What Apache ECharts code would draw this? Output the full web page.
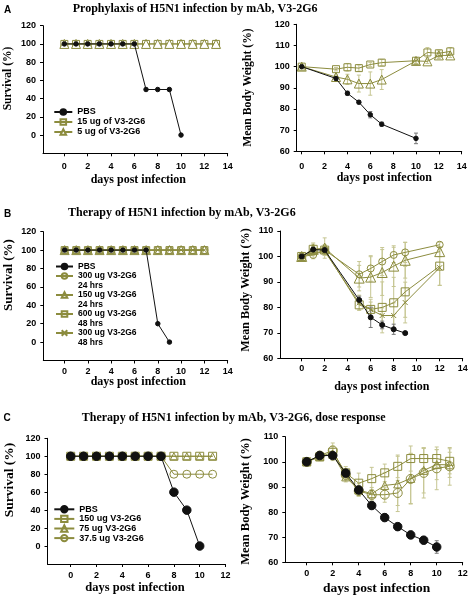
<!DOCTYPE html>
<html><head><meta charset="utf-8">
<script src="https://cdn.jsdelivr.net/npm/echarts@6/dist/echarts.min.js"></script>
<style>html,body{margin:0;padding:0;background:#fff}#c{width:472px;height:599px}</style>
</head><body><div id="c"></div>
<script>
// ---------------- Panel A: Prophylaxis ----------------
const daysA_surv = [0,1,2,3,4,5,6,7,8,9,10,11,12,13];
const daysA_surv_PBS = [0,1,2,3,4,5,6,7,8,9,10];
const survA_PBS  = [100,100,100,100,100,100,100,50,50,50,0];
const survA_15ug = [100,100,100,100,100,100,100,100,100,100,100,100,100,100];
const survA_5ug  = [100,100,100,100,100,100,100,100,100,100,100,100,100,100];

const daysA_wt_PBS = [0,3,4,5,6,7,10];
const wtA_PBS  = [100,94.4,87.4,83.2,77.3,72.8,66.1];
const errA_PBS = [0.5,0.8,1,0.8,1.5,1,2.5];
const daysA_wt = [0,3,4,5,6,7,10,11,12,13];
const wtA_15ug  = [100,98.8,99.7,99.3,101,101.9,102.8,106.7,106.3,107.2];
const errA_15ug = [0.5,0.8,1.8,1.5,1,1.5,1.5,2.3,1.5,1.8];
const wtA_5ug   = [100,95.1,94,92,92,93.9,102.7,102.5,105.3,105.3];
const errA_5ug  = [0.5,1,2.4,4,5.5,4.7,1.5,1,1.5,1];

// ---------------- Panel B: Therapy ----------------
const daysB_surv = [0,1,2,3,4,5,6,7,8,9,10,11,12];
const daysB_surv_PBS = [0,1,2,3,4,5,6,7,8,9];
const survB_PBS    = [100,100,100,100,100,100,100,100,20,0];
const survB_300_24 = [100,100,100,100,100,100,100,100,100,100,100,100,100];
const survB_150_24 = [100,100,100,100,100,100,100,100,100,100,100,100,100];
const survB_600_48 = [100,100,100,100,100,100,100,100,100,100,100,100,100];
const survB_300_48 = [100,100,100,100,100,100,100,100,100,100,100,100,100];

const daysB_wt_PBS = [0,1,2,5,6,7,8,9];
const wtB_PBS  = [100,102.7,102.5,82.9,76.1,73.1,71.4,69.9];
const errB_PBS = [0.5,1,1,1.5,4,1.5,2,0.5];
const daysB_wt = [0,1,2,5,6,7,8,9,12];
const wtB_300_24  = [100,100.6,102.5,93,95.3,98,100.6,101.6,104.6];
const errB_300_24 = [0.5,1.5,2,5,5,5.5,3,4,1];
const wtB_150_24  = [100,102.8,103.3,91.5,91.9,93.7,96.2,98.5,101.9];
const errB_150_24 = [0.5,2.5,4,5,8,9,8,7,2];
const wtB_600_48  = [100,102.8,102.5,81,79.2,80,81.8,86.1,96.2];
const errB_600_48 = [0.5,2,2,2,4,10,10,10,7.5];
const wtB_300_48  = [100,101.5,102,81.8,79.1,76.8,76.8,81.9,95.6];
const errB_300_48 = [0.5,1,1.5,3,3,3,5,8,7];

// ---------------- Panel C: Dose response ----------------
const daysC_surv = [0,1,2,3,4,5,6,7,8,9,10,11];
const daysC_surv_PBS = [0,1,2,3,4,5,6,7,8,9,10];
const survC_PBS = [100,100,100,100,100,100,100,100,60,40,0];
const survC_150 = [100,100,100,100,100,100,100,100,100,100,100,100];
const survC_75  = [100,100,100,100,100,100,100,100,100,100,100,100];
const survC_37  = [100,100,100,100,100,100,100,100,80,80,80,80];

const daysC_wt_PBS = [0,1,2,3,4,5,6,7,8,9,10];
const wtC_PBS  = [100,102.5,102.5,95.5,88.8,82.6,77.8,74.2,70.9,68.8,66.1];
const errC_PBS = [0.5,1,1,1.5,1.5,1.5,1.5,1.5,1.5,1.5,2.5];
const daysC_wt = [0,1,2,3,4,5,6,7,8,9,10,11];
const wtC_150  = [100,102,103.8,95.6,91.5,93.3,95.6,98.2,101.3,101.3,101.3,100.2];
const errC_150 = [0.5,1.5,2.5,2.5,4,4.5,3.5,4.5,5,4,3.5,5];
const wtC_75   = [100,102,103,94,88.8,87.3,90.6,91.2,93.4,96.6,98.9,98.8];
const errC_75  = [0.5,1.5,2.5,2,2.5,2.5,5,11,10,9,6,5];
const wtC_37   = [100,102.5,104.5,94.8,88.4,86.9,86.9,87.6,93.2,95.6,97.4,98.2];
const errC_37  = [0.5,1.5,3,2,2,2,3,5,10,10,8.5,7.5];

// ---------------- tick labels ----------------
const xTicks14 = [0,2,4,6,8,10,12,14];
const xTicks12 = [0,2,4,6,8,10,12];
const survTicks = [0,20,40,60,80,100,120];
const wtTicks120 = [60,70,80,90,100,110,120];
const wtTicks110 = [60,70,80,90,100,110];

// ---------------- text ----------------
const titleA = 'Prophylaxis of H5N1 infection by mAb, V3-2G6';
const titleB = 'Therapy of H5N1 infection by mAb, V3-2G6';
const titleC = 'Therapy of H5N1 infection by mAb, V3-2G6, dose response';
const nA = ['PBS','15 ug of V3-2G6','5 ug of V3-2G6'];
const nB = ['PBS','300 ug V3-2G6\n24 hrs','150 ug V3-2G6\n24 hrs','600 ug V3-2G6\n48 hrs','300 ug V3-2G6\n48 hrs'];
const nC = ['PBS','150 ug V3-2G6','75 ug V3-2G6','37.5 ug V3-2G6'];

// ---------------- style ----------------
const OLIVE = '#8c8c3e';
const ERRC = '#c6c692';
const BLACK = '#111111';
const SANS = 'Liberation Sans';
const SERIF = 'Liberation Serif';
const XSYM = 'path://M0,0L10,10M10,0L0,10';
const NOFILL = 'rgba(0,0,0,0)';

const grids = [
  {left:43, top:25.7, width:184.7, height:127.6},
  {left:296.7, top:24.3, width:165, height:127},
  {left:43.3, top:231.7, width:184.4, height:128.8},
  {left:280.3, top:231, width:182.4, height:127.3},
  {left:47.5, top:438.3, width:178, height:125.7},
  {left:285.3, top:436.7, width:177.4, height:125.6}
];

function xAx(gi, min, max, ticks, margin) {
  return {gridIndex:gi, type:'value', min:min, max:max,
    axisLine:{show:true, onZero:false, lineStyle:{color:'#000', width:1}},
    axisTick:{show:true, length:3, inside:false, customValues:ticks, lineStyle:{color:'#000'}},
    axisLabel:{customValues:ticks, fontFamily:SANS, fontWeight:'bold', fontSize:9, color:'#000', margin:margin},
    splitLine:{show:false}};
}
function yAx(gi, min, max, ticks) {
  return {gridIndex:gi, type:'value', min:min, max:max,
    axisLine:{show:true, onZero:false, lineStyle:{color:'#000', width:1}},
    axisTick:{show:true, length:3, inside:false, customValues:ticks, lineStyle:{color:'#000'}},
    axisLabel:{customValues:ticks, fontFamily:SANS, fontWeight:'bold', fontSize:9, color:'#000', margin:7},
    splitLine:{show:false}};
}
function ln(name, gi, days, vals, sym, size, color, fill, z) {
  return {type:'line', name:name, xAxisIndex:gi, yAxisIndex:gi,
    data: days.map((d,i)=>[d, vals[i]]),
    symbol:sym, symbolSize:size, showSymbol:true, showAllSymbol:true, z:z,
    lineStyle:{color:color, width:1},
    itemStyle:{color:fill, borderColor:color, borderWidth:1},
    emphasis:{disabled:true}, silent:true, animation:false};
}
function eb(gi, days, vals, errs, color) {
  return {type:'custom', xAxisIndex:gi, yAxisIndex:gi, z:1, silent:true, animation:false,
    data: days.map((d,i)=>[d, vals[i], errs[i]]),
    encode:{x:0, y:1},
    renderItem: function(params, api) {
      const x = api.value(0), m = api.value(1), e = api.value(2);
      const t = api.coord([x, m+e]), b = api.coord([x, m-e]);
      const w = 2;
      const st = {stroke:color, lineWidth:1};
      return {type:'group', children:[
        {type:'line', shape:{x1:t[0], y1:t[1], x2:b[0], y2:b[1]}, style:st},
        {type:'line', shape:{x1:t[0]-w, y1:t[1], x2:t[0]+w, y2:t[1]}, style:st},
        {type:'line', shape:{x1:b[0]-w, y1:b[1], x2:b[0]+w, y2:b[1]}, style:st}
      ]};
    }};
}

const series = [
  // A survival
  ln(nA[1], 0, daysA_surv, survA_15ug, 'rect', 7, OLIVE, NOFILL, 2),
  ln(nA[2], 0, daysA_surv, survA_5ug, 'triangle', 9, OLIVE, '#fff', 2),
  ln(nA[0], 0, daysA_surv_PBS, survA_PBS, 'circle', 4.5, BLACK, BLACK, 3),
  // A weight
  eb(1, daysA_wt, wtA_15ug, errA_15ug, ERRC),
  eb(1, daysA_wt, wtA_5ug, errA_5ug, ERRC),
  eb(1, daysA_wt_PBS, wtA_PBS, errA_PBS, '#777'),
  ln(nA[1], 1, daysA_wt, wtA_15ug, 'rect', 7, OLIVE, NOFILL, 2),
  ln(nA[2], 1, daysA_wt, wtA_5ug, 'triangle', 9, OLIVE, NOFILL, 2),
  ln(nA[0], 1, daysA_wt_PBS, wtA_PBS, 'circle', 4.5, BLACK, BLACK, 3),
  // B survival
  ln(nB[1], 2, daysB_surv, survB_300_24, 'circle', 7, OLIVE, NOFILL, 2),
  ln(nB[2], 2, daysB_surv, survB_150_24, 'triangle', 9, OLIVE, NOFILL, 2),
  ln(nB[3], 2, daysB_surv, survB_600_48, 'rect', 7, OLIVE, NOFILL, 2),
  ln(nB[4], 2, daysB_surv, survB_300_48, XSYM, 5, OLIVE, NOFILL, 2),
  ln(nB[0], 2, daysB_surv_PBS, survB_PBS, 'circle', 4.5, BLACK, BLACK, 3),
  // B weight
  eb(3, daysB_wt, wtB_300_24, errB_300_24, ERRC),
  eb(3, daysB_wt, wtB_150_24, errB_150_24, ERRC),
  eb(3, daysB_wt, wtB_600_48, errB_600_48, ERRC),
  eb(3, daysB_wt, wtB_300_48, errB_300_48, ERRC),
  eb(3, daysB_wt_PBS, wtB_PBS, errB_PBS, '#777'),
  ln(nB[1], 3, daysB_wt, wtB_300_24, 'circle', 7, OLIVE, NOFILL, 2),
  ln(nB[2], 3, daysB_wt, wtB_150_24, 'triangle', 10, OLIVE, NOFILL, 2),
  ln(nB[3], 3, daysB_wt, wtB_600_48, 'rect', 8, OLIVE, NOFILL, 2),
  ln(nB[4], 3, daysB_wt, wtB_300_48, XSYM, 5, OLIVE, NOFILL, 2),
  ln(nB[0], 3, daysB_wt_PBS, wtB_PBS, 'circle', 5, BLACK, BLACK, 3),
  // C survival
  ln(nC[1], 4, daysC_surv, survC_150, 'rect', 8, OLIVE, NOFILL, 2),
  ln(nC[2], 4, daysC_surv, survC_75, 'triangle', 7, OLIVE, NOFILL, 2),
  ln(nC[3], 4, daysC_surv, survC_37, 'circle', 8, OLIVE, NOFILL, 2),
  ln(nC[0], 4, daysC_surv_PBS, survC_PBS, 'circle', 8.5, BLACK, BLACK, 3),
  // C weight
  eb(5, daysC_wt, wtC_150, errC_150, ERRC),
  eb(5, daysC_wt, wtC_75, errC_75, ERRC),
  eb(5, daysC_wt, wtC_37, errC_37, ERRC),
  eb(5, daysC_wt_PBS, wtC_PBS, errC_PBS, '#777'),
  ln(nC[1], 5, daysC_wt, wtC_150, 'rect', 8, OLIVE, NOFILL, 2),
  ln(nC[2], 5, daysC_wt, wtC_75, 'triangle', 8, OLIVE, NOFILL, 2),
  ln(nC[3], 5, daysC_wt, wtC_37, 'circle', 9, OLIVE, NOFILL, 2),
  ln(nC[0], 5, daysC_wt_PBS, wtC_PBS, 'circle', 8.5, BLACK, BLACK, 3)
];

function legendText(size, lh) {
  return {fontFamily:SANS, fontWeight:'bold', fontSize:size, color:'#000', lineHeight:lh};
}
const legends = [
  {data:nA, orient:'vertical', left:53.3, top:107, padding:0, itemWidth:18, itemHeight:7, itemGap:0,
   textStyle:legendText(9, 10), selectedMode:false},
  {data:nB, orient:'vertical', left:55, top:261.75, padding:0, itemWidth:17, itemHeight:7, itemGap:-9.5,
   textStyle:legendText(8.5, 9.5), selectedMode:false,
   formatter: function(n){ return n.indexOf('\n') >= 0 ? ' \n' + n : n; }},
  {data:nC, orient:'vertical', left:53.3, top:504.5, padding:0, itemWidth:20, itemHeight:8, itemGap:0,
   textStyle:legendText(9, 9.6), selectedMode:false}
];

function ttl(text, left, top, size, family) {
  return {text:text, left:left, top:top, padding:0,
    textStyle:{fontFamily:family, fontWeight:'bold', fontSize:size, color:'#000'}};
}
const titles = [
  ttl('A', 4, 5, 10, SANS), ttl(titleA, 72.7, 3, 12, SERIF),
  ttl('B', 4, 209, 10, SANS), ttl(titleB, 68, 207.3, 12, SERIF),
  ttl('C', 3.5, 413.5, 10, SANS), ttl(titleC, 81.7, 411.7, 12, SERIF)
];

function axTitle(text, x, y, size, rot) {
  return {type:'text', x:x, y:y, rotation: rot ? Math.PI/2 : 0, silent:true,
    style:{text:text, align:'center', verticalAlign:'middle', fill:'#000',
      font:'bold ' + size + 'px "' + SERIF + '"'}};
}
const graphics = [
  axTitle('Survival (%)', 8.3, 78.5, 11.5, true),
  axTitle('days post infection', 138.3, 180, 12, false),
  axTitle('Mean Body Weight (%)', 247.7, 87.5, 11.7, true),
  axTitle('days post infection', 384.3, 178.3, 12, false),
  axTitle('Survival (%)', 8.3, 275, 13, true),
  axTitle('days post infection', 138.3, 381.7, 12, false),
  axTitle('Mean Body Weight (%)', 246, 290, 12.2, true),
  axTitle('days post infection', 381.8, 386.7, 12, false),
  axTitle('Survival (%)', 9.3, 480, 13.5, true),
  axTitle('days post infection', 135, 587.7, 12.5, false),
  axTitle('Mean Body Weight (%)', 245.3, 501.5, 12.5, true),
  axTitle('days post infection', 376.7, 588.3, 13.5, false)
];

const chart = echarts.init(document.getElementById('c'), null, {renderer:'canvas'});
chart.setOption({
  animation:false,
  backgroundColor:'#fff',
  title: titles,
  legend: legends,
  grid: grids,
  xAxis: [
    xAx(0, -1.83, 14, xTicks14, 9), xAx(1, -0.44, 14, xTicks14, 11),
    xAx(2, -1.83, 14, xTicks14, 7), xAx(3, -1.86, 14, xTicks14, 6),
    xAx(4, -1.8, 12, xTicks12, 7), xAx(5, -1.65, 12, xTicks12, 7)
  ],
  yAxis: [
    yAx(0, -20, 120, survTicks), yAx(1, 60, 120, wtTicks120),
    yAx(2, -20, 120, survTicks), yAx(3, 60, 110, wtTicks110),
    yAx(4, -20, 120, survTicks), yAx(5, 60, 110, wtTicks110)
  ],
  series: series,
  graphic: graphics
});
</script></body></html>
